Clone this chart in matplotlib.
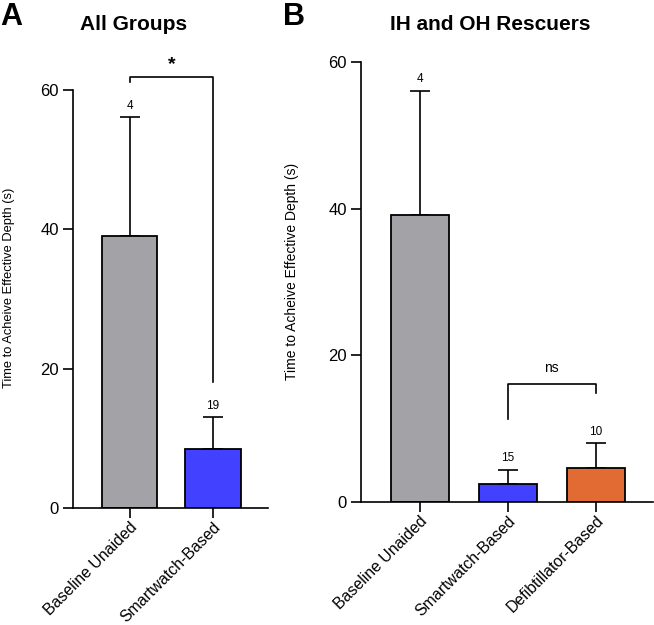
import numpy as np
import matplotlib
matplotlib.use("Agg")
import matplotlib.pyplot as plt

plt.rcParams['font.family'] = ['Liberation Sans', 'DejaVu Sans']

# panel A data
groupsA = ['Baseline Unaided', 'Smartwatch-Based']
meansA = [39.1, 8.4]
errA = [17.0, 4.6]
nA = [4, 19]

# panel B data
groupsB = ['Baseline Unaided', 'Smartwatch-Based', 'Defibtillator-Based']
meansB = [39.1, 2.5, 4.7]
errB = [17.0, 1.9, 3.3]
nB = [4, 15, 10]

gray = '#A3A2A6'
blue = '#4141FF'
orange = '#E26B33'
colorsA = [gray, blue]
colorsB = [gray, blue, orange]

ylab = 'Time to Acheive Effective Depth (s)'


def style_axis(ax, xmin, xmax, ylabel_size):
    ax.set_ylim(0, 60)
    ax.set_xlim(xmin, xmax)
    ax.set_yticks([0, 20, 40, 60])
    for s in ['top', 'right']:
        ax.spines[s].set_visible(False)
    for s in ['left', 'bottom']:
        ax.spines[s].set_linewidth(1.2)
    ax.tick_params(axis='both', length=7, width=1.2)
    ax.tick_params(axis='y', labelsize=12, pad=3)
    ax.tick_params(axis='x', labelsize=11.4, pad=1)
    ax.set_ylabel(ylab, fontsize=ylabel_size)


def draw_bars(ax, names, means, errs, ns, colors):
    x = np.arange(len(names))
    ax.bar(x, means, width=0.66, color=colors, edgecolor='black', linewidth=1.3, zorder=2)
    ax.errorbar(x, means, yerr=[np.zeros(len(x)), errs], fmt='none', ecolor='black',
                elinewidth=1.2, capsize=7, capthick=1.2, zorder=1)
    for xi, m, e, n in zip(x, means, errs, ns):
        ax.annotate(str(n), (xi, m + e), xytext=(0, 4), textcoords='offset points',
                    ha='center', va='bottom', fontsize=8.5)
    ax.set_xticks(x)
    ax.set_xticklabels(names, rotation=45, ha='right', rotation_mode='anchor')


fig = plt.figure(figsize=(6.54, 6.25), dpi=100)
axA = fig.add_axes([0.1116, 0.1872, 0.2982, 0.6688])
axB = fig.add_axes([0.5515, 0.1968, 0.4470, 0.7040])

draw_bars(axA, groupsA, meansA, errA, nA, colorsA)
style_axis(axA, -0.68, 1.66, 9.3)
axA.yaxis.set_label_coords(-0.295, 0.526)

draw_bars(axB, groupsB, meansB, errB, nB, colorsB)
style_axis(axB, -0.67, 2.65, 10)
axB.yaxis.set_label_coords(-0.212, 0.523)

# significance brackets
axA.plot([0, 0, 1, 1], [61.1, 61.9, 61.9, 18.1], color='black', lw=1.2, clip_on=False)
axA.text(0.5, 63.6, '*', ha='center', va='center', fontsize=14, fontweight='bold')

axB.plot([1, 1, 2, 2], [11.3, 16.1, 16.1, 14.9], color='black', lw=1.2, clip_on=False)
axB.text(1.5, 18.3, 'ns', ha='center', va='center', fontsize=10)

# titles and panel letters
fig.text(134 / 654, 1 - 24 / 625, 'All Groups', ha='center', va='center',
         fontsize=15, fontweight='bold')
fig.text(490 / 654, 1 - 24 / 625, 'IH and OH Rescuers', ha='center', va='center',
         fontsize=15, fontweight='bold')
fig.text(0.0, 1 - 17 / 625, 'A', ha='left', va='center', fontsize=22, fontweight='bold')
fig.text(283 / 654, 1 - 17 / 625, 'B', ha='left', va='center', fontsize=22, fontweight='bold')

fig.savefig('out.png', dpi=100)
